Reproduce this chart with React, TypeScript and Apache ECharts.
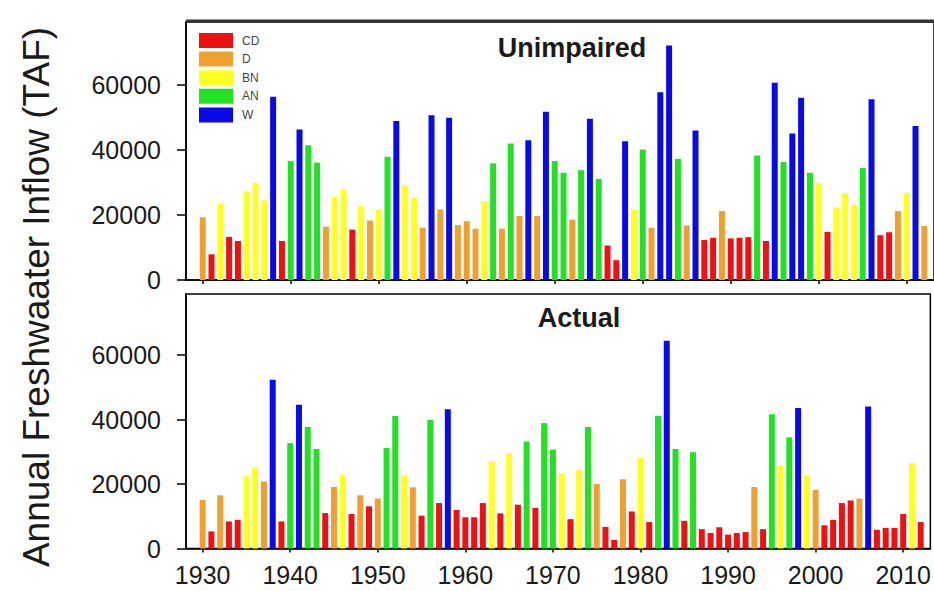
import React, { useEffect, useRef } from "react";
import * as echarts from "echarts";

const years = [
  1930, 1931, 1932, 1933, 1934, 1935, 1936, 1937, 1938, 1939,
  1940, 1941, 1942, 1943, 1944, 1945, 1946, 1947, 1948, 1949,
  1950, 1951, 1952, 1953, 1954, 1955, 1956, 1957, 1958, 1959,
  1960, 1961, 1962, 1963, 1964, 1965, 1966, 1967, 1968, 1969,
  1970, 1971, 1972, 1973, 1974, 1975, 1976, 1977, 1978, 1979,
  1980, 1981, 1982, 1983, 1984, 1985, 1986, 1987, 1988, 1989,
  1990, 1991, 1992, 1993, 1994, 1995, 1996, 1997, 1998, 1999,
  2000, 2001, 2002, 2003, 2004, 2005, 2006, 2007, 2008, 2009,
  2010, 2011, 2012,
];

const typeNames = ["CD", "D", "BN", "AN", "W"];
const typeColors = ["#EE1111", "#F0A030", "#FFFF22", "#22E022", "#0A0AE6"];

const unimpairedValues = [
  19300, 7900, 23400, 13300, 12000, 27300, 29900, 24500, 56400, 12000,
  36600, 46300, 41500, 36100, 16400, 25600, 27900, 15500, 22700, 18300,
  21700, 37900, 48900, 29200, 25300, 16100, 50700, 21700, 49900, 16900,
  18100, 15800, 24300, 35900, 15800, 42000, 19700, 43000, 19700, 51800,
  36600, 33000, 18600, 33800, 49600, 31100, 10600, 6100, 42700, 21700,
  40200, 16100, 57800, 72200, 37300, 16800, 46000, 12300, 13000, 21200,
  12800, 13000, 13200, 38300, 12000, 60700, 36300, 45100, 56100, 33000,
  29900, 14800, 22400, 26800, 23200, 34500, 55600, 13800, 14700, 21200,
  26800, 47400, 16600,
];
const unimpairedTypes = [
  "D", "CD", "BN", "CD", "CD", "BN", "BN", "BN", "W", "CD",
  "AN", "W", "AN", "AN", "D", "BN", "BN", "CD", "BN", "D",
  "BN", "AN", "W", "BN", "BN", "D", "W", "D", "W", "D",
  "D", "D", "BN", "AN", "D", "AN", "D", "W", "D", "W",
  "AN", "AN", "D", "AN", "W", "AN", "CD", "CD", "W", "BN",
  "AN", "D", "W", "W", "AN", "D", "W", "CD", "CD", "D",
  "CD", "CD", "CD", "AN", "CD", "W", "AN", "W", "W", "AN",
  "BN", "CD", "BN", "BN", "BN", "AN", "W", "CD", "CD", "D",
  "BN", "W", "D",
];

const actualValues = [
  15100, 5300, 16500, 8400, 8900, 22400, 25200, 20800, 52400, 8400,
  32700, 44600, 37700, 30900, 11000, 19100, 22900, 10700, 16500, 13100,
  15500, 31200, 41100, 22700, 19000, 10200, 40000, 14100, 43200, 12000,
  9700, 9700, 14100, 27000, 10900, 29600, 13600, 33200, 12600, 38900,
  30700, 23400, 9100, 24400, 37700, 20000, 6700, 2700, 21500, 11500,
  28100, 8200, 41200, 64500, 30900, 8600, 29900, 6000, 4800, 6600,
  4300, 4800, 5100, 19100, 6000, 41700, 25700, 34500, 43600, 22700,
  18200, 7200, 8900, 14100, 14900, 15500, 44100, 5800, 6400, 6400,
  10700, 26500, 8200,
];
const actualTypes = [
  "D", "CD", "D", "CD", "CD", "BN", "BN", "D", "W", "CD",
  "AN", "W", "AN", "AN", "CD", "D", "BN", "CD", "D", "CD",
  "D", "AN", "AN", "BN", "D", "CD", "AN", "CD", "W", "CD",
  "CD", "CD", "CD", "BN", "CD", "BN", "CD", "AN", "CD", "AN",
  "AN", "BN", "CD", "BN", "AN", "D", "CD", "CD", "D", "CD",
  "BN", "CD", "AN", "W", "AN", "CD", "AN", "CD", "CD", "CD",
  "CD", "CD", "CD", "D", "CD", "AN", "BN", "AN", "W", "BN",
  "D", "CD", "CD", "CD", "CD", "D", "W", "CD", "CD", "CD",
  "CD", "BN", "CD",
];

const decadeTicks = [1930, 1940, 1950, 1960, 1970, 1980, 1990, 2000, 2010];
const yTickValues = [0, 20000, 40000, 60000];

const panelTitles = ["Unimpaired", "Actual"];
const yAxisTitle = "Annual Freshwaater Inflow (TAF)";

const FONT = '"Liberation Sans", Arial, Helvetica, sans-serif';

export default function App() {
  const ref = useRef<HTMLDivElement>(null);

  useEffect(() => {
    if (!ref.current) return;
    const chart = echarts.init(ref.current, undefined, { renderer: "svg" });

    const panels = [
      { values: unimpairedValues, types: unimpairedTypes },
      { values: actualValues, types: actualTypes },
    ];

    const series: any[] = [];
    panels.forEach((p, pi) => {
      typeNames.forEach((t, ti) => {
        const data: any[] = [];
        years.forEach((y, i) => {
          if (p.types[i] === t) data.push([y, p.values[i]]);
        });
        series.push({
          type: "bar",
          name: t,
          xAxisIndex: pi,
          yAxisIndex: pi,
          data,
          barWidth: 6,
          barGap: "-100%",
          itemStyle: { color: typeColors[ti] },
          silent: true,
        });
      });
    });

    const xAxisBase = (gridIndex: number, showLabels: boolean) => ({
      type: "value",
      gridIndex,
      min: 1928.1,
      max: 2013.1,
      axisLine: { show: true, onZero: false, lineStyle: { color: "#000", width: 1.5 } },
      axisTick: {
        show: true,
        length: 4,
        customValues: decadeTicks,
        lineStyle: { color: "#000", width: 1.5 },
      },
      axisLabel: {
        show: showLabels,
        customValues: decadeTicks,
        formatter: (v: number) => String(v),
        fontSize: 25,
        fontFamily: FONT,
        color: "#1a1a1a",
        margin: 14,
      },
      splitLine: { show: false },
    });

    const yAxisBase = (gridIndex: number, max: number) => ({
      type: "value",
      gridIndex,
      min: 0,
      max,
      interval: 20000,
      axisLine: { show: true, lineStyle: { color: "#000", width: 1.5 } },
      axisTick: {
        show: true,
        length: 9,
        customValues: yTickValues,
        lineStyle: { color: "#000", width: 1.5 },
      },
      axisLabel: {
        customValues: yTickValues,
        formatter: (v: number) => String(v),
        fontSize: 25,
        fontFamily: FONT,
        color: "#1a1a1a",
        margin: 25,
      },
      splitLine: { show: false },
    });

    chart.setOption({
      animation: false,
      backgroundColor: "#ffffff",
      grid: [
        { left: 186, top: 22, width: 748, height: 258, show: true, borderColor: "#000", borderWidth: 1.5, backgroundColor: "transparent" },
        { left: 186, top: 294, width: 748, height: 254.5, show: true, borderColor: "#000", borderWidth: 1.5, backgroundColor: "transparent" },
      ],
      xAxis: [xAxisBase(0, false), xAxisBase(1, true)],
      yAxis: [yAxisBase(0, 79400), yAxisBase(1, 79000)],
      legend: {
        data: typeNames,
        orient: "vertical",
        left: 199,
        top: 33,
        padding: 0,
        itemWidth: 34,
        itemHeight: 15,
        itemGap: 3.6,
        icon: "rect",
        selectedMode: false,
        textStyle: { fontSize: 12, color: "#444", fontFamily: FONT, padding: [0, 0, 0, 4] },
      },
      graphic: [
        {
          type: "rect",
          shape: { x: 186, y: 19.5, width: 748, height: 3 },
          style: { fill: "#333" },
          silent: true,
        },
        {
          type: "text",
          x: 572,
          y: 48,
          style: {
            text: panelTitles[0],
            font: `bold 27px ${FONT}`,
            fill: "#1a1a1a",
            textAlign: "center",
            textVerticalAlign: "middle",
          },
          silent: true,
        },
        {
          type: "text",
          x: 579,
          y: 318,
          style: {
            text: panelTitles[1],
            font: `bold 27px ${FONT}`,
            fill: "#1a1a1a",
            textAlign: "center",
            textVerticalAlign: "middle",
          },
          silent: true,
        },
        {
          type: "text",
          x: 36,
          y: 297,
          rotation: Math.PI / 2,
          style: {
            text: yAxisTitle,
            font: `37px ${FONT}`,
            fill: "#1a1a1a",
            textAlign: "center",
            textVerticalAlign: "middle",
          },
          silent: true,
        },
      ],
      series,
    });

    return () => chart.dispose();
  }, []);

  return (
    <div
      ref={ref}
      style={{ position: "fixed", left: 0, top: 0, width: 934, height: 591, background: "#fff" }}
    />
  );
}
